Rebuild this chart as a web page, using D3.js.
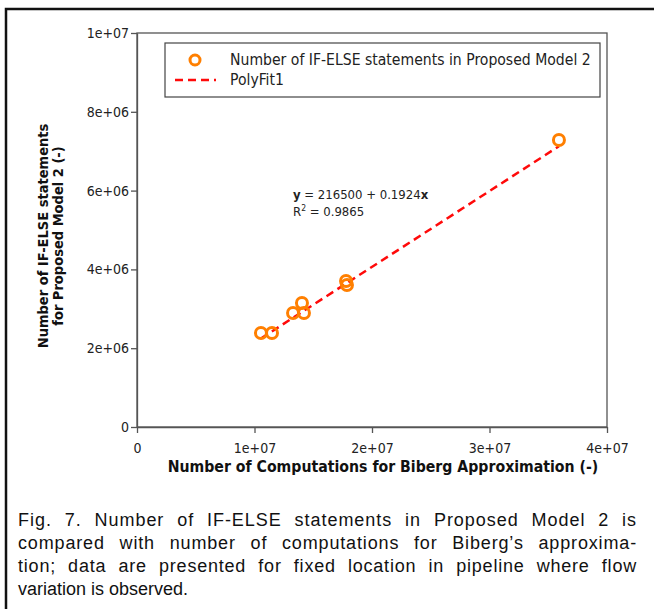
<!DOCTYPE html>
<html>
<head>
<meta charset="utf-8">
<script src="https://cdn.jsdelivr.net/npm/d3@7"></script>
<style>
html,body{margin:0;padding:0;background:#fff;}
svg{display:block;}
</style>
</head>
<body>
<svg id="chart" width="654" height="609"></svg>
<script>
// ---- data ----
const xValues = [1.055e7, 1.149e7, 1.328e7, 1.404e7, 1.421e7, 1.779e7, 1.787e7, 3.591e7];
const yValues = [2.386e6, 2.386e6, 2.893e6, 3.147e6, 2.893e6, 3.706e6, 3.604e6, 7.284e6];
const fitIntercept = 216500;
const fitSlope = 0.1924;
const rSquared = "0.9865";
const xTicks = [0, 1e7, 2e7, 3e7, 4e7];
const xTickLabels = ["0", "1e+07", "2e+07", "3e+07", "4e+07"];
const yTicks = [0, 2e6, 4e6, 6e6, 8e6, 1e7];
const yTickLabels = ["0", "2e+06", "4e+06", "6e+06", "8e+06", "1e+07"];
const seriesName = "Number of IF-ELSE statements in Proposed Model 2";
const fitName = "PolyFit1";
const xTitle = "Number of Computations for Biberg Approximation (-)";
const yTitleLines = ["Number of IF-ELSE statements", "for Proposed Model 2 (-)"];
const captionLines = [
  "Fig. 7. Number of IF-ELSE statements in Proposed Model 2 is",
  "compared with number of computations for Biberg\u2019s approxima-",
  "tion; data are presented for fixed location in pipeline where flow",
  "variation is observed."
];

const svg = d3.select("#chart");
const orange = "#ff7f00";
const red = "#ff0a0a";
const tickFont = "'DejaVu Sans Condensed', 'DejaVu Sans', Verdana, sans-serif";

// outer frame
svg.append("rect").attr("x", 6).attr("y", 9).attr("width", 700).attr("height", 700)
  .attr("fill", "none").attr("stroke", "#111").attr("stroke-width", 2.5);

const plot = {left: 137, right: 607, top: 33, bottom: 427};
const x = d3.scaleLinear().domain([0, 4e7]).range([plot.left, plot.right]);
const y = d3.scaleLinear().domain([0, 1e7]).range([plot.bottom, plot.top]);

// plot frame
svg.append("rect").attr("x", plot.left).attr("y", plot.top)
  .attr("width", plot.right - plot.left).attr("height", plot.bottom - plot.top)
  .attr("fill", "none").attr("stroke", "#555").attr("stroke-width", 1.3);

// axes
const xAxis = d3.axisBottom(x).tickValues(xTicks).tickFormat((d, i) => xTickLabels[i]).tickSize(6).tickSizeOuter(0);
const yAxis = d3.axisLeft(y).tickValues(yTicks).tickFormat((d, i) => yTickLabels[i]).tickSize(6).tickSizeOuter(0);

const gx = svg.append("g").attr("transform", `translate(0,${plot.bottom})`).call(xAxis);
const gy = svg.append("g").attr("transform", `translate(${plot.left},0)`).call(yAxis);
[gx, gy].forEach(g => {
  g.select(".domain").attr("stroke", "#555").attr("stroke-width", 1.3);
  g.selectAll(".tick line").attr("stroke", "#555").attr("stroke-width", 1.3);
  g.selectAll(".tick text").attr("font-family", tickFont).attr("font-size", 14).attr("fill", "#222");
});
gx.selectAll(".tick text").attr("dy", "1.0em").attr("y", 12);
gy.selectAll(".tick text").attr("x", -8);

// axis titles
svg.append("text").attr("x", 383).attr("y", 472)
  .attr("text-anchor", "middle").attr("font-family", tickFont).attr("font-weight", "bold")
  .attr("font-size", 15.7).attr("fill", "#111").text(xTitle);

const yt = svg.append("text").attr("transform", "translate(48,236) rotate(-90)")
  .attr("text-anchor", "middle").attr("font-family", tickFont).attr("font-weight", "bold")
  .attr("font-size", 14.5).attr("fill", "#111");
yTitleLines.forEach((l, i) => yt.append("tspan").attr("x", 0).attr("dy", i === 0 ? 0 : 15).text(l));

// fit line over data range
const xMin = d3.min(xValues), xMax = d3.max(xValues);
svg.append("line")
  .attr("x1", x(xMin)).attr("y1", y(fitIntercept + fitSlope * xMin))
  .attr("x2", x(xMax)).attr("y2", y(fitIntercept + fitSlope * xMax))
  .attr("stroke", red).attr("stroke-width", 2.5).attr("stroke-dasharray", "8,5");

// points
svg.append("g").selectAll("circle").data(xValues.map((v, i) => [v, yValues[i]])).join("circle")
  .attr("cx", d => x(d[0])).attr("cy", d => y(d[1])).attr("r", 5.5)
  .attr("fill", "none").attr("stroke", orange).attr("stroke-width", 3);

// annotation
const ann = svg.append("text").attr("x", 293).attr("y", 199)
  .attr("font-family", tickFont).attr("font-size", 13).attr("fill", "#222");
ann.append("tspan").attr("font-weight", "bold").text("y");
ann.append("tspan").text(` = ${fitIntercept} + ${fitSlope}`);
ann.append("tspan").attr("font-weight", "bold").text("x");
const ann2 = svg.append("text").attr("x", 293).attr("y", 216)
  .attr("font-family", tickFont).attr("font-size", 13).attr("fill", "#222");
ann2.append("tspan").text("R");
ann2.append("tspan").attr("font-size", 8.5).attr("dy", -5).text("2");
ann2.append("tspan").attr("dy", 5).text(` = ${rSquared}`);

// legend
svg.append("rect").attr("x", 165).attr("y", 43).attr("width", 435).attr("height", 54)
  .attr("fill", "#fff").attr("stroke", "#444").attr("stroke-width", 1.2);
svg.append("circle").attr("cx", 195).attr("cy", 60).attr("r", 5).attr("fill", "none")
  .attr("stroke", orange).attr("stroke-width", 3);
svg.append("line").attr("x1", 175).attr("x2", 216).attr("y1", 80).attr("y2", 80)
  .attr("stroke", red).attr("stroke-width", 2.5).attr("stroke-dasharray", "8,5");
svg.append("text").attr("x", 230).attr("y", 65).attr("font-family", tickFont)
  .attr("font-size", 15.6).attr("fill", "#222").text(seriesName);
svg.append("text").attr("x", 230).attr("y", 85).attr("font-family", tickFont)
  .attr("font-size", 15.6).attr("fill", "#222").text(fitName);

// caption (justified: part letter spacing, rest word spacing)
const capLeft = 18, capRight = 637;
captionLines.forEach((l, i) => {
  const t = svg.append("text").attr("x", capLeft).attr("y", 526 + i * 23)
    .attr("font-family", "'Liberation Sans', Arial, sans-serif").attr("font-size", 18)
    .attr("fill", "#111").text(l);
  if (i < captionLines.length - 1) {
    const target = capRight - capLeft;
    const w0 = t.node().getComputedTextLength();
    const ls = (target - w0) * 0.45 / l.length;
    t.attr("letter-spacing", ls);
    const w1 = t.node().getComputedTextLength();
    const spaces = (l.match(/ /g) || []).length;
    if (spaces > 0) t.attr("word-spacing", (target - w1) / spaces);
  }
});
</script>
</body>
</html>
